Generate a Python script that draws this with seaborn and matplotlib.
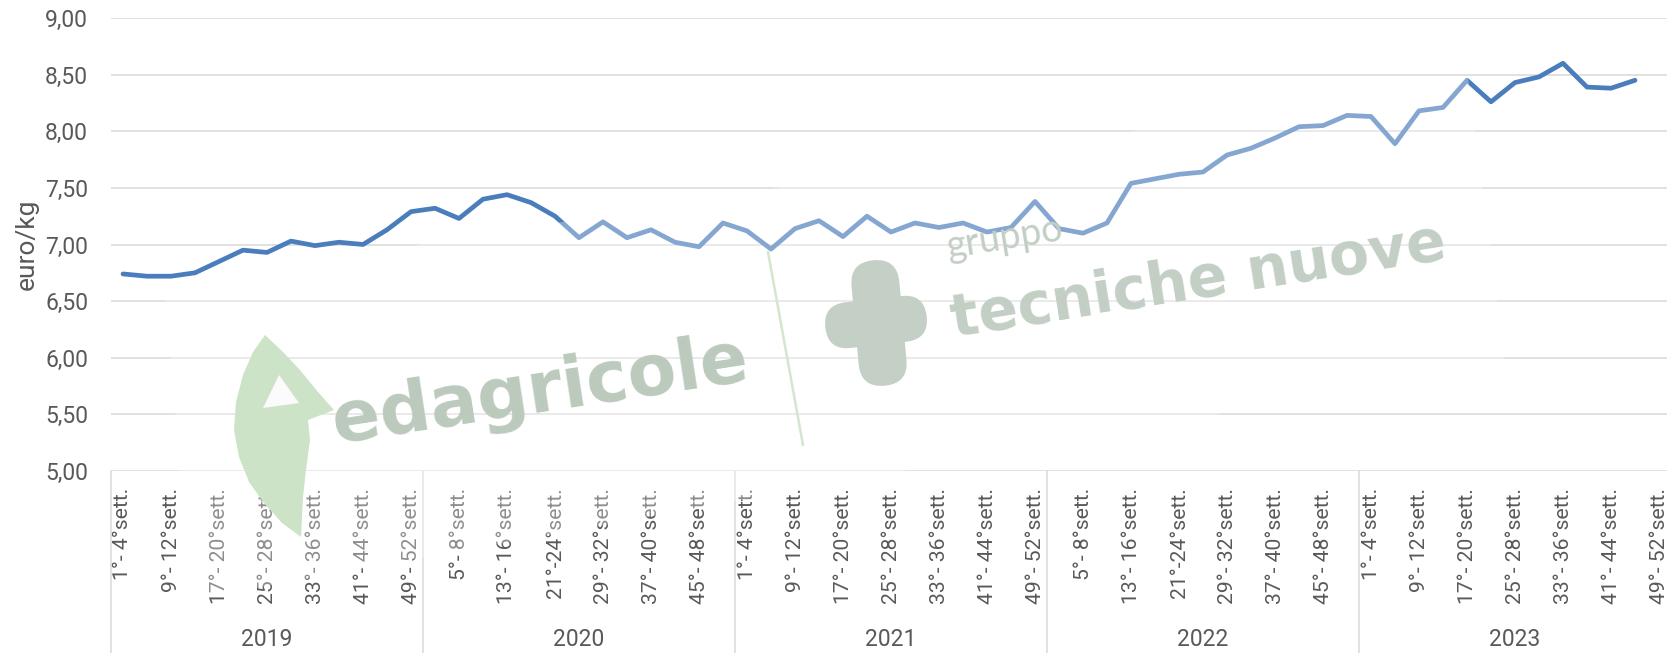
import numpy as np
import pandas as pd
import matplotlib
matplotlib.use("Agg")
import matplotlib.pyplot as plt
import seaborn as sns
from matplotlib.patches import Polygon, FancyBboxPatch
from matplotlib.transforms import Affine2D, IdentityTransform, blended_transform_factory
from matplotlib.lines import Line2D

# ---------------- data ----------------
years = ["2019", "2020", "2021", "2022", "2023"]
periods = ["1°- 4°sett.", "5°- 8°sett.", "9°- 12°sett.", "13°- 16°sett.",
           "17°- 20°sett.", "21°-24°sett.", "25°- 28°sett.", "29°- 32°sett.",
           "33°- 36°sett.", "37°- 40°sett.", "41°- 44°sett.", "45°- 48°sett.",
           "49°- 52°sett."]
price_2019 = [6.74, 6.72, 6.72, 6.75, 6.85, 6.95, 6.93, 7.03, 6.99, 7.02, 7.00, 7.13, 7.29]
price_2020 = [7.32, 7.23, 7.40, 7.44, 7.37, 7.25, 7.06, 7.20, 7.06, 7.13, 7.02, 6.98, 7.19]
price_2021 = [7.12, 6.96, 7.14, 7.21, 7.07, 7.25, 7.11, 7.19, 7.15, 7.19, 7.11, 7.15, 7.38]
price_2022 = [7.14, 7.10, 7.19, 7.54, 7.58, 7.62, 7.64, 7.79, 7.85, 7.94, 8.04, 8.05, 8.14]
price_2023 = [8.13, 7.89, 8.18, 8.21, 8.45, 8.26, 8.43, 8.48, 8.60, 8.39, 8.38, 8.45, np.nan]
y_ticks = [5.0, 5.5, 6.0, 6.5, 7.0, 7.5, 8.0, 8.5, 9.0]
y_label = "euro/kg"

all_prices = price_2019 + price_2020 + price_2021 + price_2022 + price_2023
df = pd.DataFrame({
    "pos": np.arange(len(all_prices)),
    "year": np.repeat(years, len(periods)),
    "period": periods * len(years),
    "price": all_prices,
})

# ---------------- style ----------------
W, H = 1667, 653
sns.set_theme(style="white")
plt.rcParams["font.family"] = ["Roboto", "DejaVu Sans"]
TXT = "#595959"
GRID = "#d9d9d9"
LINE = "#4a7dbb"

fig = plt.figure(figsize=(W / 100, H / 100), dpi=100, facecolor="white")
ax = fig.add_axes([111 / W, 1 - 471 / H, 1560 / W, 453 / H])
ax.set_facecolor("white")

sns.lineplot(data=df, x="pos", y="price", ax=ax, color=LINE, linewidth=3.4,
             solid_joinstyle="round", solid_capstyle="round", zorder=3)

ax.set_xlim(-0.5, len(all_prices) - 0.5)
ax.set_ylim(y_ticks[0], y_ticks[-1])
ax.set_yticks(y_ticks)
ax.set_yticklabels([f"{v:.2f}".replace(".", ",") for v in y_ticks],
                   fontsize=16.5, color=TXT)
ax.yaxis.grid(True, color=GRID, linewidth=1.1)
ax.xaxis.grid(False)
for s in ax.spines.values():
    s.set_visible(False)

xt = df["pos"].values[::2]
ax.set_xticks(xt)
ax.set_xticklabels(df["period"].values[::2], rotation=90, fontsize=15.2,
                   color=TXT, va="top", ha="center")
ax.tick_params(axis="x", length=0, pad=12)
ax.tick_params(axis="y", length=0, pad=16.5)
ax.set_xlabel("")
ax.set_ylabel("")
fig.text(27 / W, 1 - 244 / H, y_label, rotation=90, fontsize=19, color=TXT,
         ha="center", va="center")

# multi-level category axis: year separators and labels
trans = blended_transform_factory(ax.transData, ax.transAxes)
n = len(periods)
for i in range(len(years)):
    b = i * n - 0.5
    ax.add_line(Line2D([b, b], [0, -0.42], transform=trans, color=GRID,
                       lw=1.1, clip_on=False))
    ax.text(i * n + (n - 1) / 2, -0.373, years[i], transform=trans,
            ha="center", va="center", fontsize=16.5, color=TXT)

# ---------------- watermark ----------------
ID = IdentityTransform()


def P(x, y):
    return (x, H - y)


overlay = Polygon([P(165, 285), P(1468, 78), P(1505, 362), P(190, 600)],
                  closed=True, facecolor="white", edgecolor="none",
                  alpha=0.32, transform=ID, zorder=5)
fig.add_artist(overlay)

# green leaf "e"
leaf_pts = [(265, 335), (283, 352), (300, 370), (318, 392), (334, 410),
            (308, 420), (310, 440), (306, 470), (303, 497), (301, 537),
            (282, 523), (264, 503), (249, 482), (239, 457), (234, 430),
            (236, 402), (243, 375), (253, 352)]
fig.add_artist(Polygon([P(*p) for p in leaf_pts], closed=True,
                       facecolor="#cde3c7", edgecolor="none", transform=ID,
                       zorder=6))
fig.add_artist(Polygon([P(279, 375), P(299, 403), P(263, 408)], closed=True,
                       facecolor="#fbfbfb", edgecolor="none", transform=ID,
                       zorder=6))

fig.text(*P(540, 392), "edagricole", transform=ID, fontsize=51,
         fontweight="bold", color="#bccabd", rotation=8.7,
         rotation_mode="anchor", ha="center", va="center", zorder=7,
         family=["DejaVu Sans"])

# green separator stroke
fig.add_artist(Line2D([768, 803], [H - 252, H - 445], transform=ID,
                      color="#d3e7cd", lw=1.8, zorder=6))

# gruppo tecniche nuove icon
for (cx, cy, w, h, ang) in [(879, 323, 48, 126, 5.2), (876, 322, 102, 46, 6.4)]:
    dx, dy = P(cx, cy)
    r = min(w, h) / 2
    patch = FancyBboxPatch((dx - w / 2, dy - h / 2), w, h,
                           boxstyle=f"round,pad=0,rounding_size={r}",
                           facecolor="#c4cfc5", edgecolor="none",
                           transform=Affine2D().rotate_deg_around(dx, dy, ang) + ID,
                           zorder=6)
    fig.add_artist(patch)

fig.text(*P(1005, 238), "gruppo", transform=ID, fontsize=27,
         color="#c3cec4", rotation=9,
         rotation_mode="anchor", ha="center", va="center", zorder=7,
         family=["Lato", "DejaVu Sans"])
fig.text(*P(1198, 282), "tecniche nuove", transform=ID, fontsize=42,
         fontweight="bold", color="#c3cfc4", rotation=9,
         rotation_mode="anchor", ha="center", va="center", zorder=7,
         family=["DejaVu Sans"])

fig.savefig("out.png", dpi=100, facecolor="white")
